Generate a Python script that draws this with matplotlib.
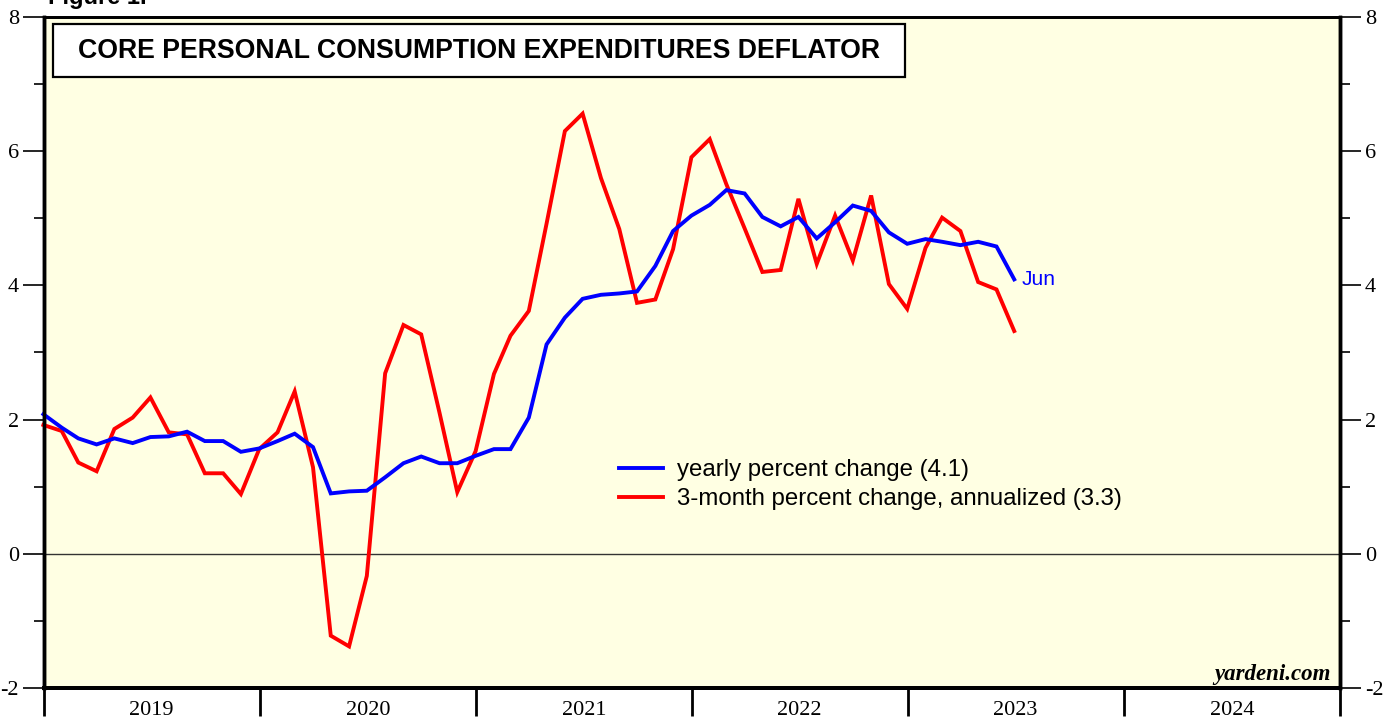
import matplotlib
matplotlib.use("Agg")
import matplotlib.pyplot as plt
import matplotlib.patches as mpatches
from matplotlib.ticker import MultipleLocator
import pandas as pd

plt.rcParams["axes.unicode_minus"] = False

# Monthly data, Dec 2018 .. Jun 2023 (plotted at month end)
dates = pd.date_range("2018-12-31", periods=55, freq="ME")

yearly = [2.08, 1.88, 1.72, 1.63, 1.72, 1.65, 1.74, 1.75, 1.82, 1.68,
          1.68, 1.52, 1.57, 1.68, 1.79, 1.59, 0.90, 0.93, 0.94, 1.14,
          1.35, 1.45, 1.35, 1.35, 1.46, 1.56, 1.56, 2.03, 3.12, 3.52,
          3.80, 3.86, 3.88, 3.91, 4.29, 4.81, 5.04, 5.20, 5.42, 5.37,
          5.02, 4.88, 5.02, 4.70, 4.94, 5.19, 5.11, 4.79, 4.62, 4.69,
          4.65, 4.60, 4.65, 4.58, 4.09]

three_month = [1.92, 1.83, 1.36, 1.23, 1.86, 2.03, 2.33, 1.81, 1.78, 1.20,
               1.20, 0.89, 1.56, 1.81, 2.42, 1.29, -1.22, -1.38, -0.33, 2.69,
               3.41, 3.27, 2.10, 0.92, 1.53, 2.68, 3.25, 3.62, 4.92, 6.30,
               6.56, 5.60, 4.84, 3.74, 3.79, 4.54, 5.91, 6.18, 5.51, 4.85,
               4.20, 4.23, 5.29, 4.32, 5.04, 4.37, 5.34, 4.02, 3.65, 4.56,
               5.01, 4.81, 4.05, 3.94, 3.32]

years = [2019, 2020, 2021, 2022, 2023, 2024]
title = "CORE PERSONAL CONSUMPTION EXPENDITURES DEFLATOR"
legend_labels = ["yearly percent change (4.1)",
                 "3-month percent change, annualized (3.3)"]

W, H = 1393, 719
fig = plt.figure(figsize=(W / 100, H / 100), dpi=100)
L, R, T, B = 44, 1340, 17, 688
ax = fig.add_axes([L / W, (H - B) / H, (R - L) / W, (B - T) / H])
ax.set_facecolor("#ffffe3")

ax.plot(dates, yearly, color="#0000ff", lw=2.8, solid_joinstyle="miter",
        label=legend_labels[0], clip_on=False, zorder=4)
ax.plot(dates, three_month, color="#ff0000", lw=2.8, solid_joinstyle="miter",
        label=legend_labels[1], clip_on=False, zorder=3)
ax.axhline(0, color="#333333", lw=1.0, zorder=2)

ax.set_ylim(-2, 8)
ax.set_xlim(pd.Timestamp("2019-01-01"), pd.Timestamp("2025-01-01"))

# y ticks (left)
ax.yaxis.set_major_locator(MultipleLocator(2))
ax.yaxis.set_minor_locator(MultipleLocator(1))
ax.tick_params(axis="y", which="major", direction="out", length=15, width=1.2,
               labelsize=16, pad=3)
ax.tick_params(axis="y", which="minor", direction="out", length=7, width=1.2)

# right axis
ax2 = ax.twinx()
ax2.set_ylim(-2, 8)
ax2.yaxis.set_major_locator(MultipleLocator(2))
ax2.yaxis.set_minor_locator(MultipleLocator(1))
ax2.tick_params(axis="y", which="major", direction="out", length=15, width=1.2,
                labelsize=16, pad=3)
ax2.tick_params(axis="y", which="minor", direction="out", length=7, width=1.2)

for a in (ax, ax2):
    for lab in a.get_yticklabels():
        lab.set_fontfamily("Liberation Serif")

# x ticks: year boundaries (major), year labels at mid-year (minor)
year_starts = [pd.Timestamp(f"{y}-01-01") for y in years] + [pd.Timestamp("2025-01-01")]
mid_years = [pd.Timestamp(f"{y}-07-02") for y in years]
ax.set_xticks(year_starts)
ax.set_xticklabels([""] * len(year_starts))
ax.set_xticks(mid_years, minor=True)
ax.set_xticklabels([str(y) for y in years], minor=True, fontfamily="Liberation Serif",
                   fontsize=16)
ax.tick_params(axis="x", which="major", direction="out", length=20, width=2)
ax.tick_params(axis="x", which="minor", length=0, pad=9.5)

# spines
for a in (ax, ax2):
    a.spines["left"].set_linewidth(2.5)
    a.spines["right"].set_linewidth(2.5)
    a.spines["bottom"].set_linewidth(2.8)
    a.spines["top"].set_linewidth(2.0)

# Title box
ax.add_patch(mpatches.Rectangle(((53 - L) / (R - L), (B - 77) / (B - T)),
                                (905 - 53) / (R - L), (77 - 24) / (B - T),
                                transform=ax.transAxes, facecolor="white",
                                edgecolor="black", lw=1.6, zorder=5))
ax.text((479 - L) / (R - L), (B - 50.5) / (B - T), title, transform=ax.transAxes,
        ha="center", va="center", fontsize=19.2, fontweight="bold",
        fontfamily="Liberation Sans", zorder=6)

# Legend
leg = ax.legend(loc="upper left", bbox_to_anchor=((619 - L) / (R - L), (B - 459) / (B - T)),
                frameon=False, handlelength=1.85, handletextpad=0.55,
                labelspacing=0.3, borderpad=0, borderaxespad=0,
                prop={"family": "Liberation Sans", "size": 17.3})

# "Jun" label
ax.annotate("Jun", xy=(dates[-1], yearly[-1]), xytext=(5, 0), textcoords="offset points",
            color="#0000ff", fontsize=15, fontfamily="Liberation Sans",
            ha="left", va="center")

# source
ax.text((1331 - L) / (R - L), (B - 680) / (B - T), "yardeni.com", transform=ax.transAxes,
        ha="right", va="baseline", fontsize=16.5, fontweight="bold", fontstyle="italic",
        fontfamily="Liberation Serif")

# clipped figure label at the very top
fig.text(48 / W, 1 - 4 / H, "Figure 1.", ha="left", va="baseline", fontsize=17,
         fontweight="bold", fontfamily="Liberation Sans")

fig.savefig("out.png", dpi=100, facecolor="white")
